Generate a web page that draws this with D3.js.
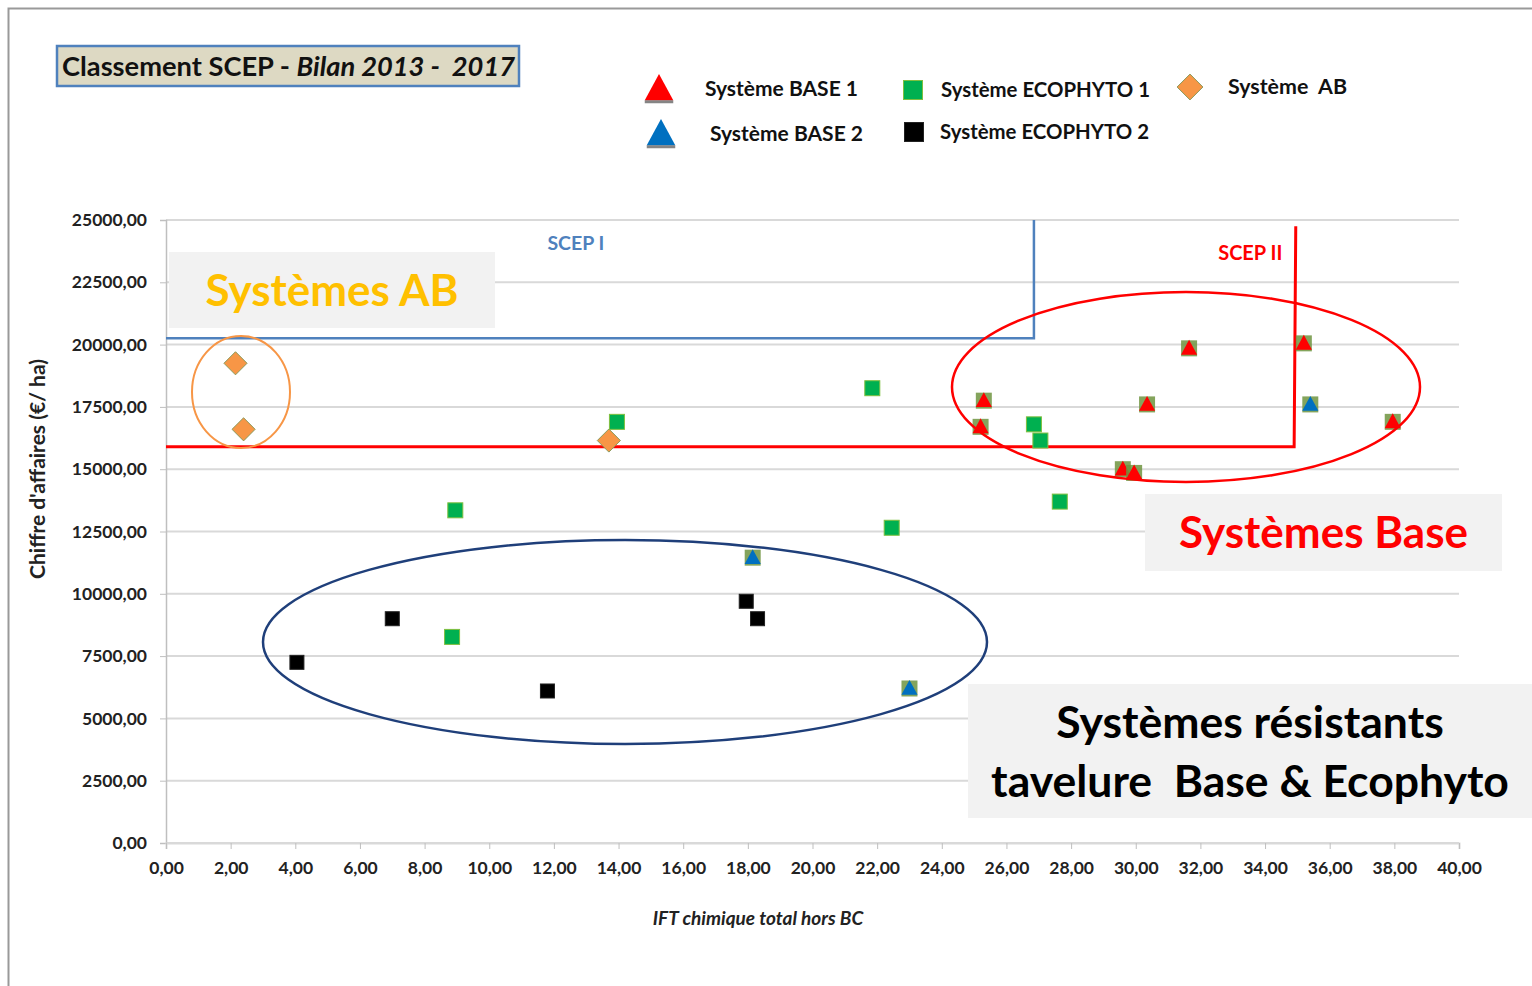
<!DOCTYPE html>
<html>
<head>
<meta charset="utf-8">
<script src="https://cdn.jsdelivr.net/npm/d3@7"></script>
<style>
	body { margin: 0; background: #fff; }
	#chart { width: 1532px; height: 986px; }
	text { font-family: Lato, "Open Sans", sans-serif; white-space: pre; }
</style>
</head>
<body>
<div id="chart"></div>
<script>

// data (x = IFT chimique, y = chiffre d'affaires)
var base1 = [
	[25.3, 17750], [25.2, 16700], [30.35, 17600], [31.65, 19850],
	[29.6, 15000], [29.95, 14850], [35.2, 20050], [37.95, 16900]
];
var base2 = [[35.4, 17600], [18.15, 11450], [23.0, 6200]];
var ecophyto1 = [
	[13.95, 16900], [8.95, 13350], [8.85, 8270], [21.85, 18250],
	[22.45, 12650], [26.85, 16800], [27.05, 16150], [27.65, 13700]
];
var ecophyto2 = [[4.05, 7250], [7.0, 9000], [11.8, 6100], [17.95, 9700], [18.3, 9000]];
var systemeAB = [[2.15, 19250], [2.4, 16600], [13.7, 16150]];

var scep1 = [[0, 20250], [26.85, 20250], [26.85, 25000]];
var scep2 = [[0, 15900], [34.9, 15900], [34.95, 24750]];

var xTicks = d3.range(0, 42, 2);
var yTicks = d3.range(0, 27500, 2500);

var legendItems = [
	{ name: "Système BASE 1", shape: "tri", color: "#ff0000" },
	{ name: "Système BASE 2", shape: "tri", color: "#0070c0" },
	{ name: "Système ECOPHYTO 1", shape: "sq", color: "#00b050" },
	{ name: "Système ECOPHYTO 2", shape: "sq", color: "#000000" },
	{ name: "Système  AB", shape: "dia", color: "#f79646" }
];

var totalWidth = 1532, totalHeight = 986;
var margin = { top: 220, left: 166, bottom: 143, right: 73 };
var width = totalWidth - margin.left - margin.right;
var height = totalHeight - margin.top - margin.bottom;

var fmt = function (d) { return d3.format(".2f")(d).replace(".", ","); };

var xScale = d3.scaleLinear().domain([0, 40]).range([0, width]);
var yScale = d3.scaleLinear().domain([0, 25000]).range([height, 0]);

var svg = d3.select("#chart").append("svg")
	.attr("width", totalWidth)
	.attr("height", totalHeight);

// outer frame
svg.append("path")
	.attr("d", "M8.5," + totalHeight + " V8.5 H" + totalWidth)
	.attr("fill", "none")
	.attr("stroke", "#999")
	.attr("stroke-width", 2);

// title box
var title = svg.append("g").attr("transform", "translate(57,46)");
title.append("rect")
	.attr("width", 462).attr("height", 40)
	.attr("fill", "#ddd9c3")
	.attr("stroke", "#4f81bd")
	.attr("stroke-width", 2.5);
var tt = title.append("text")
	.attr("x", 5).attr("y", 30)
	.attr("font-size", 26.5)
	.attr("font-weight", "bold")
	.attr("fill", "#111")
	.attr("textLength", 453)
	.attr("lengthAdjust", "spacingAndGlyphs");
tt.append("tspan").text("Classement SCEP - ");
tt.append("tspan").attr("font-style", "italic").text("Bilan 2013 -  2017");

// legend
var legendPos = [[659, 89, 705, 153], [661, 134, 710, 153], [913, 90, 941, 209], [914, 132, 940, 209], [1190, 87, 1228, 119]];
var legend = svg.append("g").attr("id", "legend");
legendItems.forEach(function (d, i) {
	var p = legendPos[i];
	drawMarker(legend, d.shape, d.color, p[0], p[1], d.shape == "tri" ? 30 : 19, false);
	legend.append("text")
		.attr("x", p[2]).attr("y", p[1] + 7)
		.attr("font-size", 20.5)
		.attr("font-weight", "bold")
		.attr("fill", "#111")
		.attr("textLength", p[3])
		.attr("lengthAdjust", "spacingAndGlyphs")
		.text(d.name);
});

function drawMarker(g, shape, color, x, y, size, backing) {
	if (shape == "tri") {
		if (backing) {
			g.append("rect")
				.attr("x", x - 8).attr("y", y - 8)
				.attr("width", 16).attr("height", 16)
				.attr("fill", "#6f9440").attr("opacity", 0.85);
		}
		var s = size / 2;
		g.append("path")
			.attr("d", "M" + x + "," + (y - s) + " L" + (x + s * 0.95) + "," + (y + s * 0.75) + " L" + (x - s * 0.95) + "," + (y + s * 0.75) + "Z")
			.attr("fill", color);
		if (!backing) {
			g.append("rect")
				.attr("x", x - s * 0.95).attr("y", y + s * 0.75)
				.attr("width", s * 1.9).attr("height", 3)
				.attr("fill", "#333").attr("opacity", 0.6);
		}
	} else if (shape == "sq") {
		g.append("rect")
			.attr("x", x - size / 2).attr("y", y - size / 2)
			.attr("width", size).attr("height", size)
			.attr("fill", color)
			.attr("stroke", color == "#000000" ? "#222" : "#7fbf3f")
			.attr("stroke-width", 1);
	} else {
		var r = size * 0.68;
		g.append("path")
			.attr("d", "M" + x + "," + (y - r) + " L" + (x + r) + "," + y + " L" + x + "," + (y + r) + " L" + (x - r) + "," + y + "Z")
			.attr("fill", color)
			.attr("stroke", "#8a9a5b")
			.attr("stroke-width", 1);
	}
}

var mainGroup = svg.append("g")
	.attr("transform", "translate(" + margin.left + "," + margin.top + ")");

// grid
mainGroup.append("g").selectAll("line")
	.data(yTicks)
	.enter().append("line")
	.attr("x1", 0).attr("x2", width)
	.attr("y1", yScale).attr("y2", yScale)
	.attr("stroke", "#d9d9d9")
	.attr("stroke-width", 2);

// y axis
var yAxis = d3.axisLeft(yScale).tickValues(yTicks).tickFormat(fmt).tickSize(6).tickPadding(13);
var yAxisGroup = mainGroup.append("g").call(yAxis);
yAxisGroup.select(".domain").attr("stroke", "#bfbfbf").attr("stroke-width", 1.5);
yAxisGroup.selectAll(".tick line").attr("stroke", "#bfbfbf");
yAxisGroup.selectAll(".tick text")
	.attr("font-family", "Lato, sans-serif")
	.attr("font-size", 17.5)
	.attr("font-weight", "bold")
	.attr("fill", "#222");

// x axis
var xAxis = d3.axisBottom(xScale).tickValues(xTicks).tickFormat(fmt).tickSize(6).tickPadding(13);
var xAxisGroup = mainGroup.append("g")
	.attr("transform", "translate(0," + height + ")")
	.call(xAxis);
xAxisGroup.select(".domain").attr("stroke", "#d9d9d9").attr("stroke-width", 2);
xAxisGroup.selectAll(".tick line").attr("stroke", "#bfbfbf");
xAxisGroup.selectAll(".tick text")
	.attr("font-family", "Lato, sans-serif")
	.attr("font-size", 17.5)
	.attr("font-weight", "bold")
	.attr("fill", "#222");

// axis titles
svg.append("text")
	.attr("transform", "translate(45," + 469 + ") rotate(-90)")
	.attr("text-anchor", "middle")
	.attr("font-size", 21)
	.attr("font-weight", "bold")
	.attr("fill", "#222")
	.text("Chiffre d'affaires (€/ ha)");
svg.append("text")
	.attr("x", 758).attr("y", 925)
	.attr("text-anchor", "middle")
	.attr("font-size", 19)
	.attr("font-weight", "bold")
	.attr("font-style", "italic")
	.attr("fill", "#222")
	.text("IFT chimique total hors BC");

// SCEP threshold lines
var line = d3.line().x(function (d) { return xScale(d[0]); }).y(function (d) { return yScale(d[1]); });
mainGroup.append("path").datum(scep1).attr("d", line)
	.attr("fill", "none").attr("stroke", "#4f81bd").attr("stroke-width", 2.5);
mainGroup.append("path").datum(scep2).attr("d", line)
	.attr("fill", "none").attr("stroke", "#ff0000").attr("stroke-width", 3);

mainGroup.append("text")
	.attr("x", xScale(11.8)).attr("y", yScale(23800))
	.attr("font-size", 19.5).attr("font-weight", "bold").attr("fill", "#4f81bd")
	.text("SCEP I");
mainGroup.append("text")
	.attr("x", xScale(32.55)).attr("y", yScale(23400))
	.attr("font-size", 20).attr("font-weight", "bold").attr("fill", "#ff0000")
	.text("SCEP II");

// points
var pts = mainGroup.append("g").attr("id", "points");
systemeAB.forEach(function (d) { drawMarker(pts, "dia", "#f79646", xScale(d[0]), yScale(d[1]), 17, true); });
ecophyto1.forEach(function (d) { drawMarker(pts, "sq", "#00b050", xScale(d[0]), yScale(d[1]), 15, true); });
ecophyto2.forEach(function (d) { drawMarker(pts, "sq", "#000000", xScale(d[0]), yScale(d[1]), 14, true); });
base1.forEach(function (d) { drawMarker(pts, "tri", "#ff0000", xScale(d[0]), yScale(d[1]), 17, true); });
base2.forEach(function (d) { drawMarker(pts, "tri", "#0070c0", xScale(d[0]), yScale(d[1]), 17, true); });

// annotation boxes
function noteBox(x, y, w, h, lines, color, size) {
	svg.append("rect")
		.attr("x", x).attr("y", y).attr("width", w).attr("height", h)
		.attr("fill", "#f2f2f2");
	var n = lines.length;
	lines.forEach(function (t, i) {
		svg.append("text")
			.attr("x", x + w / 2)
			.attr("y", y + h / 2 + (i - (n - 1) / 2) * 59 + size * 0.36)
			.attr("text-anchor", "middle")
			.attr("font-size", size)
			.attr("font-weight", "bold")
			.attr("fill", color)
			.text(t);
	});
}
noteBox(169, 252, 326, 76, ["Systèmes AB"], "#ffc000", 44);
noteBox(1145, 494, 357, 77, ["Systèmes Base"], "#ff0000", 44);
noteBox(968, 684, 564, 134, ["Systèmes résistants", "tavelure  Base & Ecophyto"], "#000", 44.5);

// ellipses
svg.append("ellipse").attr("cx", 241).attr("cy", 392).attr("rx", 49).attr("ry", 56)
	.attr("fill", "none").attr("stroke", "#f79646").attr("stroke-width", 2);
svg.append("ellipse").attr("cx", 1186).attr("cy", 387).attr("rx", 234).attr("ry", 95)
	.attr("fill", "none").attr("stroke", "#ff0000").attr("stroke-width", 2.5);
svg.append("ellipse").attr("cx", 625).attr("cy", 642).attr("rx", 362).attr("ry", 102)
	.attr("fill", "none").attr("stroke", "#1f3f7a").attr("stroke-width", 2.5);

</script>
</body>
</html>
